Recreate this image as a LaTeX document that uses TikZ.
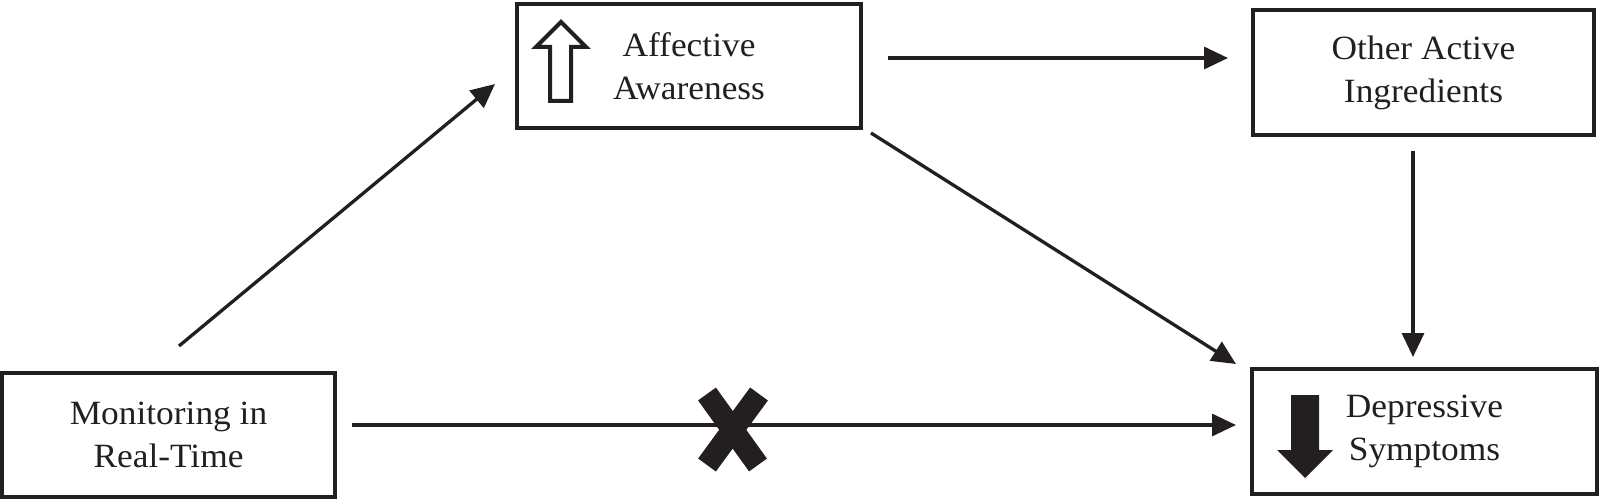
\documentclass[tikz,border=0pt]{standalone}
\usepackage{fontspec}
\setmainfont{Liberation Serif}[FakeStretch=1.04]
\usetikzlibrary{arrows.meta}
\definecolor{ink}{HTML}{231F20}
\tikzset{
  box/.style={draw=ink, line width=4pt, align=center, text=ink, inner sep=0pt,
    font=\fontsize{34}{43}\selectfont},
  arr/.style={draw=ink, line width=3.3pt, -{Triangle[length=24pt,width=22pt]}},
}
\begin{document}
\begin{tikzpicture}[x=1pt,y=-1pt]
\useasboundingbox (0,0) rectangle (1601,500);
\node[box, minimum width=333pt, minimum height=124pt] (mon) at (168.5,435) {Monitoring in\\Real-Time};
\node[box, minimum width=344pt, minimum height=124pt] (aff) at (689,66) {Affective\\Awareness};
\node[box, minimum width=341pt, minimum height=125pt] (oth) at (1423.5,72.5) {Other Active\\Ingredients};
\node[box, minimum width=345pt, minimum height=125pt] (dep) at (1424.5,431.5) {Depressive\\Symptoms};
% connectors
\draw[arr] ([shift={(10.5,-25)}]mon.north) -- ([shift={(-20,18)}]aff.west);
\draw[arr] ([shift={(25,-8)}]aff.east) -- ([shift={(-23,-14.5)}]oth.west);
\draw[arr] ([shift={(8,3)}]aff.south east) -- ([shift={(-14,-3)}]dep.north west);
\draw[arr] ([shift={(-10.5,14)}]oth.south) -- ([shift={(-11.5,-10)}]dep.north);
\draw[arr] ([shift={(15,-10)}]mon.east) -- ([shift={(-14,-6.5)}]dep.west);
% cross mark
\draw[ink, line width=22pt] (707,394) -- (758,465) (759,394) -- (707,465);
% hollow up arrow
\draw[ink, line width=4pt, line join=miter] (561,22) -- (586,47) -- (571,47) -- (571,101) -- (550,101) -- (550,47) -- (536,47) -- cycle;
% filled down arrow
\fill[ink] (1291,395) -- (1319,395) -- (1319,450) -- (1333,450) -- (1305,478) -- (1277,450) -- (1291,450) -- cycle;
\end{tikzpicture}
\end{document}
